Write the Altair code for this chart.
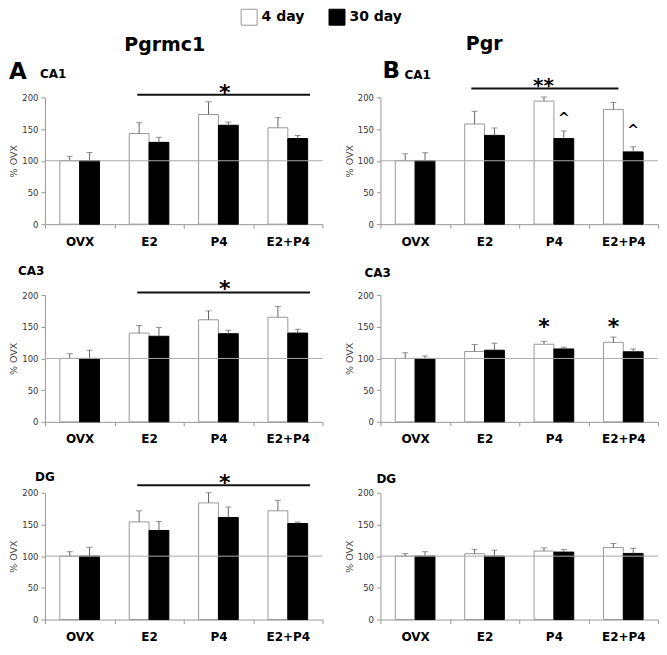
import altair as alt
import pandas as pd

groups = ["OVX", "E2", "P4", "E2+P4"]
days = ["4 day", "30 day"]

# mean (% OVX) and SEM
pgrmc1_ca1_4 = [100, 143, 173, 152]
pgrmc1_ca1_4_sem = [7, 17, 20, 16]
pgrmc1_ca1_30 = [100, 129, 156, 135]
pgrmc1_ca1_30_sem = [13, 8, 5, 5]

pgrmc1_ca3_4 = [100, 140, 161, 165]
pgrmc1_ca3_4_sem = [7.5, 12, 14, 17]
pgrmc1_ca3_30 = [100, 135, 139, 140]
pgrmc1_ca3_30_sem = [13, 14, 5.5, 6]

pgrmc1_dg_4 = [100, 154, 184, 171.5]
pgrmc1_dg_4_sem = [7, 17.5, 16, 16.5]
pgrmc1_dg_30 = [100, 140.5, 161, 151.5]
pgrmc1_dg_30_sem = [14, 14, 16.5, 2.5]

pgr_ca1_4 = [100, 158, 194, 181]
pgr_ca1_4_sem = [11, 20, 6.5, 11]
pgr_ca1_30 = [100, 140, 135, 114]
pgr_ca1_30_sem = [12.7, 11.7, 12, 8]

pgr_ca3_4 = [100, 111, 122.4, 125.4]
pgr_ca3_4_sem = [9, 11, 4.6, 8.3]
pgr_ca3_30 = [100, 113, 115, 110.5]
pgr_ca3_30_sem = [4, 11, 2.7, 4.5]

pgr_dg_4 = [100, 103.8, 108, 113.5]
pgr_dg_4_sem = [4, 7, 5, 6.5]
pgr_dg_30 = [100, 100, 106.4, 104.3]
pgr_dg_30_sem = [7, 9.4, 4, 8.2]

y_ticks = [0, 50, 100, 150, 200]

W, H = 278, 127
FONT = "DejaVu Sans"


def make_df(m4, s4, m30, s30):
    rows = []
    for g, a, b in zip(groups, m4, s4):
        rows.append({"group": g, "day": "4 day", "value": a, "upper": a + b})
    for g, a, b in zip(groups, m30, s30):
        rows.append({"group": g, "day": "30 day", "value": a, "upper": a + b})
    return pd.DataFrame(rows)


xscale = alt.Scale(domain=groups, paddingInner=0, paddingOuter=0)
oscale = alt.Scale(domain=days, paddingInner=0, paddingOuter=0.75)
yscale = alt.Scale(domain=[0, 200], nice=False, zero=True)
legend = alt.Legend(
    title=None, orient="none", legendX=196, legendY=-89, direction="horizontal",
    symbolType="square", symbolSize=256, symbolStrokeWidth=1,
    labelFont=FONT, labelFontSize=14, labelFontWeight="bold", labelColor="black",
    columnPadding=22, labelOffset=4, padding=0,
)
xaxis = alt.Axis(
    title=None, tickBand="extent", domainColor="#999", tickColor="#999", tickSize=4,
    labelFont=FONT, labelFontSize=12, labelFontWeight="bold", labelColor="black",
    labelPadding=8, labelAngle=0,
)
yaxis = alt.Axis(
    title="% OVX", values=y_ticks, tickCount=5, domainColor="#999", tickColor="#999",
    tickSize=4, labelFont=FONT, labelFontSize=8.5, labelColor="#333", labelPadding=3,
    labelFlush=False, labelOverlap=False, titleFont=FONT, titleFontSize=9.5,
    titleFontWeight="normal", titleColor="#444", titlePadding=3, grid=False,
)


def X(bp=None):
    if bp is None:
        return alt.X("group:N", scale=xscale, axis=xaxis)
    return alt.X("group:N", scale=xscale, axis=xaxis, bandPosition=bp)


def Y(field="value"):
    return alt.Y(f"{field}:Q", scale=yscale, axis=yaxis)


def XO():
    return alt.XOffset("day:N", scale=oscale)


def panel(df, title, title_xy, line=None, texts=(), bar_texts=(), fixed=()):
    base = alt.Chart(df)
    bars = base.mark_bar(strokeWidth=1).encode(
        x=X(),
        xOffset=XO(),
        y=Y(),
        fill=alt.Fill("day:N", scale=alt.Scale(domain=days, range=["white", "black"]), legend=legend),
        stroke=alt.Stroke("day:N", scale=alt.Scale(domain=days, range=["#999", "#000"]), legend=legend),
    )
    err = base.mark_rule(color="#666", strokeWidth=1).encode(
        x=X(), xOffset=XO(), y=Y(), y2="upper:Q"
    )
    cap = base.mark_tick(color="#666", size=6, thickness=1).encode(
        x=X(), xOffset=XO(), y=Y("upper")
    )
    ref = alt.Chart(pd.DataFrame({"value": [100]})).mark_rule(color="#aaa", strokeWidth=1).encode(
        y=Y()
    )
    layers = [bars, err, cap, ref]
    if line is not None:
        g1, b1, g2, b2, yv = line
        ldf = pd.DataFrame({"group": [g1], "group2": [g2], "value": [yv]})
        layers.append(
            alt.Chart(ldf).mark_rule(color="#111", strokeWidth=2).encode(
                x=X(b1), x2=alt.X2("group2:N", bandPosition=b2), y=Y()
            )
        )
    for g, bp, yv, txt, fs, dy in texts:
        tdf = pd.DataFrame({"group": [g], "value": [yv], "label": [txt]})
        layers.append(
            alt.Chart(tdf).mark_text(font=FONT, fontSize=fs, fontWeight="bold", color="black",
                                     baseline="middle", dy=dy).encode(
                x=X(bp), y=Y(), text="label:N"
            )
        )
    for g, d, yv, txt, fs, dy in bar_texts:
        tdf = pd.DataFrame({"group": [g], "day": [d], "value": [yv], "label": [txt]})
        layers.append(
            alt.Chart(tdf).mark_text(font=FONT, fontSize=fs, fontWeight="bold", color="black",
                                     baseline="middle", dy=dy).encode(
                x=X(), xOffset=XO(), y=Y(), text="label:N"
            )
        )
    allfixed = [(title, title_xy[0], title_xy[1], 12, "left")] + list(fixed)
    for txt, px, py, fs, al in allfixed:
        layers.append(
            alt.Chart(pd.DataFrame({"label": [txt]})).mark_text(
                font=FONT, fontSize=fs, fontWeight="bold", color="black", baseline="middle", align=al
            ).encode(x=alt.value(px), y=alt.value(py), text="label:N")
        )
    return alt.layer(*layers).properties(width=W, height=H)


p_a1 = panel(
    make_df(pgrmc1_ca1_4, pgrmc1_ca1_4_sem, pgrmc1_ca1_30, pgrmc1_ca1_30_sem),
    "CA1", (-5, -23),
    line=("E2", 0.33, "E2+P4", 0.82, 204),
    texts=[("P4", 0.59, 214, "*", 22, 5)],
    fixed=[("A", -36, -25, 23, "left"), ("Pgrmc1", 120, -52, 19, "center")],
)
p_b1 = panel(
    make_df(pgr_ca1_4, pgr_ca1_4_sem, pgr_ca1_30, pgr_ca1_30_sem),
    "CA1", (24, -22),
    line=("E2", 0.31, "E2+P4", 0.43, 214),
    texts=[("P4", 0.35, 225, "**", 20, 5)],
    bar_texts=[("P4", "30 day", 170, "^", 14, 3), ("E2+P4", "30 day", 151, "^", 14, 3)],
    fixed=[("B", 2, -26, 23, "left"), ("Pgr", 104, -53, 19, "center")],
)
p_a2 = panel(
    make_df(pgrmc1_ca3_4, pgrmc1_ca3_4_sem, pgrmc1_ca3_30, pgrmc1_ca3_30_sem),
    "CA3", (-27, -24),
    line=("E2", 0.33, "E2+P4", 0.82, 204),
    texts=[("P4", 0.59, 217, "*", 22, 5)],
)
p_b2 = panel(
    make_df(pgr_ca3_4, pgr_ca3_4_sem, pgr_ca3_30, pgr_ca3_30_sem),
    "CA3", (-16, -22),
    bar_texts=[("P4", "4 day", 158, "*", 22, 5), ("E2+P4", "4 day", 158, "*", 22, 5)],
)
p_a3 = panel(
    make_df(pgrmc1_dg_4, pgrmc1_dg_4_sem, pgrmc1_dg_30, pgrmc1_dg_30_sem),
    "DG", (-10, -16),
    line=("E2", 0.33, "E2+P4", 0.82, 212),
    texts=[("P4", 0.59, 224, "*", 22, 5)],
)
p_b3 = panel(
    make_df(pgr_dg_4, pgr_dg_4_sem, pgr_dg_30, pgr_dg_30_sem),
    "DG", (-4, -14),
)

chart = alt.concat(
    p_a1, p_b1, p_a2, p_b2, p_a3, p_b3,
    columns=2, spacing={"row": 71, "column": 58}, bounds="flush",
).resolve_scale(
    fill="shared", stroke="shared"
).properties(
    padding=0, background="white"
).configure_view(stroke=None)

chart.save("out.html", embed_options={"renderer": "svg", "actions": False})
